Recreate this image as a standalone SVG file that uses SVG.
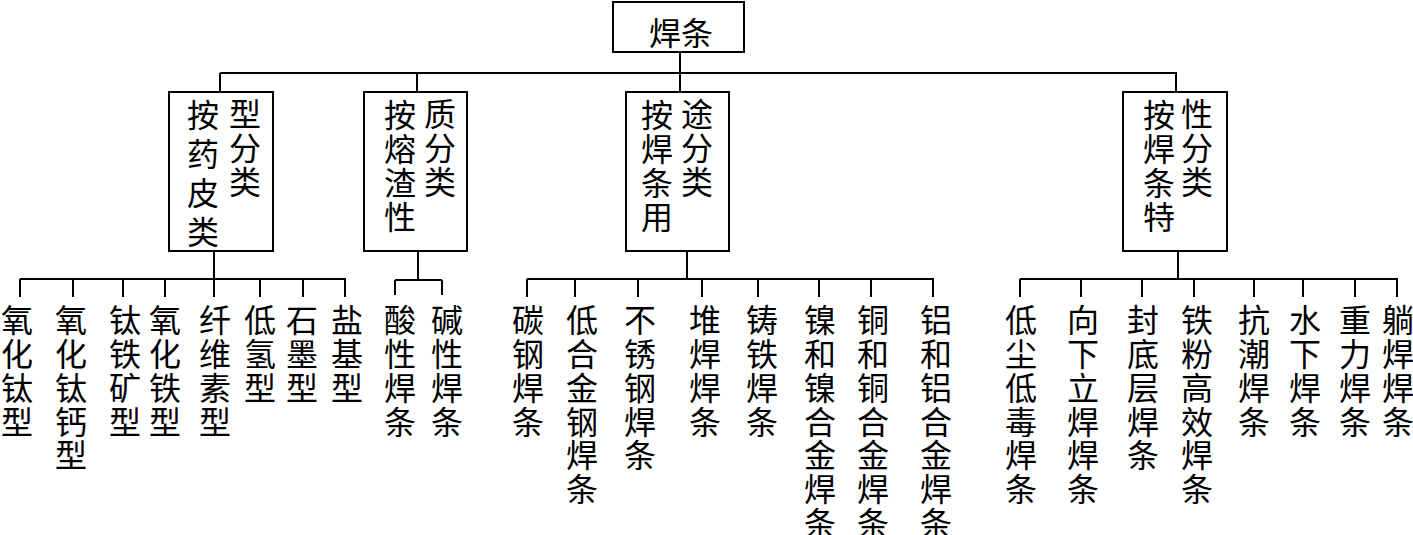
<svg xmlns="http://www.w3.org/2000/svg" width="1413" height="535" viewBox="0 0 1413 535">
<style>
.box{fill:#fff;stroke:#000;stroke-width:2}
.ln{fill:none;stroke:#000;stroke-width:2}
text{font-family:"Noto Sans CJK SC","Noto Sans CJK TC",sans-serif;font-size:32px;fill:#000}
.h{text-anchor:middle;dominant-baseline:central}
.v{writing-mode:vertical-rl;text-anchor:start;letter-spacing:1.8px}
.w{letter-spacing:7px}
</style>
<rect width="1413" height="535" fill="#fff"/>
<g id="connectors">
<path class="ln" d="M680 52V73M220 73H1177M220 73V92M417 73V92M680 73V92M1176 73V92"/>
<path class="ln" d="M214 251V279M20 279H346M20 279V297M73 279V297M123 279V297M165 279V297M214 279V297M260 279V297M303 279V297M345 279V297"/>
<path class="ln" d="M418 251V280M395 280H442M395 280V295M442 280V295"/>
<path class="ln" d="M687 251V279M527 279H934M527 279V297M575 279V297M638 279V297M702 279V297M758 279V297M819 279V297M871 279V297M933 279V297"/>
<path class="ln" d="M1178 251V279M1020 279H1398M1020 279V297M1081 279V297M1142 279V297M1194 279V297M1254 279V297M1303 279V297M1355 279V297M1397 279V297"/>
</g>
<g id="root"><rect class="box" x="613" y="2" width="131" height="50"/><text class="h" x="681" y="31">焊条</text></g>
<g id="cat1"><rect class="box" x="169" y="92" width="104" height="159"/>
<text class="v w" x="203" y="99">按药皮类</text><text class="v" x="245" y="98">型分类</text></g>
<g id="cat2"><rect class="box" x="364" y="92" width="103" height="159"/>
<text class="v" x="400" y="99">按熔渣性</text><text class="v" x="440" y="98">质分类</text></g>
<g id="cat3"><rect class="box" x="626" y="92" width="103" height="159"/>
<text class="v" x="657" y="99">按焊条用</text><text class="v" x="697" y="98">途分类</text></g>
<g id="cat4"><rect class="box" x="1123" y="92" width="104" height="159"/>
<text class="v" x="1159" y="99">按焊条特</text><text class="v" x="1197" y="98">性分类</text></g>
<g id="leaf1-1"><text class="v" x="17" y="304">氧化钛型</text></g>
<g id="leaf1-2"><text class="v" x="71" y="304">氧化钛钙型</text></g>
<g id="leaf1-3"><text class="v" x="125" y="304">钛铁矿型</text></g>
<g id="leaf1-4"><text class="v" x="165" y="304">氧化铁型</text></g>
<g id="leaf1-5"><text class="v" x="215" y="304">纤维素型</text></g>
<g id="leaf1-6"><text class="v" x="260" y="304">低氢型</text></g>
<g id="leaf1-7"><text class="v" x="302" y="304">石墨型</text></g>
<g id="leaf1-8"><text class="v" x="347" y="304">盐基型</text></g>
<g id="leaf2-1"><text class="v" x="400" y="304">酸性焊条</text></g>
<g id="leaf2-2"><text class="v" x="447" y="304">碱性焊条</text></g>
<g id="leaf3-1"><text class="v" x="528" y="304">碳钢焊条</text></g>
<g id="leaf3-2"><text class="v" x="582" y="304">低合金钢焊条</text></g>
<g id="leaf3-3"><text class="v" x="640" y="304">不锈钢焊条</text></g>
<g id="leaf3-4"><text class="v" x="705" y="304">堆焊焊条</text></g>
<g id="leaf3-5"><text class="v" x="762" y="304">铸铁焊条</text></g>
<g id="leaf3-6"><text class="v" x="820" y="304">镍和镍合金焊条</text></g>
<g id="leaf3-7"><text class="v" x="873" y="304">铜和铜合金焊条</text></g>
<g id="leaf3-8"><text class="v" x="936" y="304">铝和铝合金焊条</text></g>
<g id="leaf4-1"><text class="v" x="1021" y="304">低尘低毒焊条</text></g>
<g id="leaf4-2"><text class="v" x="1083" y="304">向下立焊焊条</text></g>
<g id="leaf4-3"><text class="v" x="1143" y="304">封底层焊条</text></g>
<g id="leaf4-4"><text class="v" x="1197" y="304">铁粉高效焊条</text></g>
<g id="leaf4-5"><text class="v" x="1254" y="304">抗潮焊条</text></g>
<g id="leaf4-6"><text class="v" x="1305" y="304">水下焊条</text></g>
<g id="leaf4-7"><text class="v" x="1355" y="304">重力焊条</text></g>
<g id="leaf4-8"><text class="v" x="1398" y="304">躺焊焊条</text></g>
</svg>
